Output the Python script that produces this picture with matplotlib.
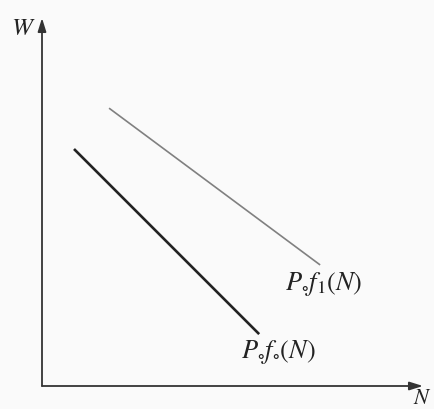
import matplotlib.pyplot as plt

# Two straight lines W = P0 f(N) (axis units 0..10)
n_f1 = [1.76, 7.30]
w_f1 = [7.55, 3.29]
n_f0 = [0.84, 5.70]
w_f0 = [6.44, 1.41]
labels = [r'$P_{\circ}f_{1}(N)$', r'$P_{\circ}f_{\circ}(N)$']

plt.rcParams['mathtext.fontset'] = 'stix'

fig = plt.figure(figsize=(4.35, 4.10), dpi=100, facecolor='#fafafa')
# origin at pixel (42, 387), arrow tips at (423, 387) and (42, 19)
ax = fig.add_axes([42 / 435, (410 - 387) / 410, 381 / 435, 368 / 410])
ax.set_xlim(0, 10)
ax.set_ylim(0, 10)
ax.axis('off')

# axes with arrow heads
arrow = dict(arrowstyle='-|>,head_length=0.8,head_width=0.25', color='#333333', lw=1.3,
             shrinkA=0, shrinkB=0)
ax.annotate('', xy=(10, 0), xytext=(0, 0), arrowprops=arrow, annotation_clip=False)
ax.annotate('', xy=(0, 10), xytext=(0, 0), arrowprops=arrow, annotation_clip=False)

ax.plot(n_f1, w_f1, color='#808080', lw=1.2, solid_capstyle='butt')
ax.plot(n_f0, w_f0, color='#222222', lw=1.9, solid_capstyle='butt')

ax.text(n_f1[1] + 0.1, w_f1[1] - 0.5, labels[0], fontsize=19, ha='center', va='center',
        color='#222222')
ax.text(n_f0[1] + 0.5, w_f0[1] - 0.45, labels[1], fontsize=19, ha='center', va='center',
        color='#222222')
ax.text(-0.5, 9.75, r'$W$', fontsize=18, ha='center', va='center', color='#222222')
ax.text(9.97, -0.3, r'$N$', fontsize=16, ha='center', va='center', color='#222222',
        clip_on=False)

fig.savefig('out.png', dpi=100, facecolor=fig.get_facecolor())
